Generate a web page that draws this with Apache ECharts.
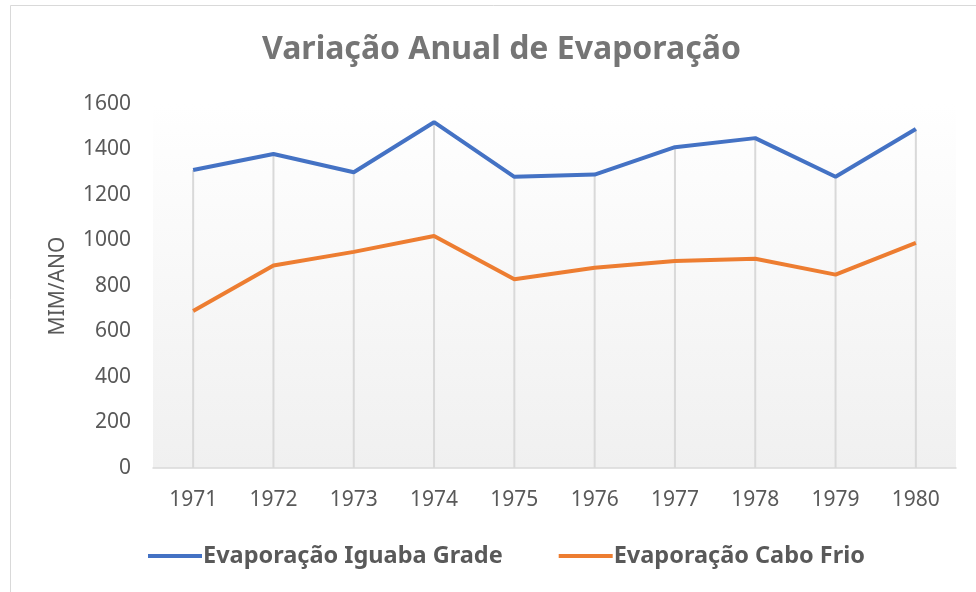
<!DOCTYPE html>
<html>
<head>
<meta charset="utf-8">
<script src="https://cdn.jsdelivr.net/npm/echarts@6/dist/echarts.min.js"></script>
<style>
  html, body { margin: 0; padding: 0; background: #fff; }
  #chart { width: 976px; height: 592px; }
</style>
</head>
<body>
<div id="chart"></div>
<script>
// anos
var years = ["1971", "1972", "1973", "1974", "1975", "1976", "1977", "1978", "1979", "1980"];
// evaporação (mm/ano)
var iguabaGrade = [1310, 1380, 1300, 1520, 1280, 1290, 1410, 1450, 1280, 1490];
var caboFrio = [690, 890, 950, 1020, 830, 880, 910, 920, 850, 990];
var seriesNames = ["Evaporação Iguaba Grade", "Evaporação Cabo Frio"];

// linhas de queda: do maior valor de cada ano até o eixo
var dropLines = years.map(function (y, i) {
  return Math.max(iguabaGrade[i], caboFrio[i]);
});

var font = "'Noto Sans', sans-serif";
var chart = echarts.init(document.getElementById("chart"));
chart.setOption({
  animation: false,
  title: {
    text: "Variação Anual de Evaporação",
    left: 257,
    top: 29,
    textStyle: {
      color: "#757575",
      fontSize: 32,
      fontWeight: "bold",
      fontFamily: font
    }
  },
  graphic: [
    {
      type: "rect",
      shape: { x: 10.5, y: 5.5, width: 980, height: 600 },
      style: { fill: "none", stroke: "#d9d9d9", lineWidth: 1 },
      silent: true
    }
  ],
  legend: {
    data: seriesNames,
    bottom: 19,
    left: 143,
    itemWidth: 54,
    itemHeight: 4,
    itemGap: 56,
    icon: "rect",
    textStyle: {
      color: "#595959",
      fontSize: 23.5,
      fontWeight: "bold",
      fontFamily: font,
      padding: [0, 0, 0, -4]
    }
  },
  grid: {
    left: 153,
    right: 20,
    top: 104,
    bottom: 124,
    show: true,
    borderWidth: 0,
    backgroundColor: {
      type: "linear", x: 0, y: 0, x2: 0, y2: 1,
      colorStops: [
        { offset: 0, color: "#ffffff" },
        { offset: 1, color: "#f0f0f0" }
      ]
    }
  },
  xAxis: {
    type: "category",
    data: years,
    boundaryGap: true,
    axisLine: { lineStyle: { color: "#d9d9d9", width: 1.5 } },
    axisTick: { show: false },
    axisLabel: { color: "#595959", fontSize: 21, margin: 22, fontFamily: font },
    splitLine: { show: false }
  },
  yAxis: {
    type: "value",
    min: 0,
    max: 1600,
    interval: 200,
    name: "MIM/ANO",
    nameLocation: "middle",
    nameRotate: 90,
    nameGap: 84,
    nameTextStyle: { color: "#595959", fontSize: 21, fontFamily: font },
    axisLine: { show: false },
    axisTick: { show: false },
    splitLine: { show: false },
    axisLabel: {
      color: "#595959",
      fontSize: 21,
      margin: 22,
      fontFamily: font,
      formatter: function (v) { return String(v); }
    }
  },
  series: [
    {
      name: "linhas",
      type: "bar",
      data: dropLines,
      barWidth: 2,
      silent: true,
      z: 1,
      itemStyle: { color: "#d9d9d9" }
    },
    {
      name: seriesNames[0],
      type: "line",
      data: iguabaGrade,
      symbol: "none",
      z: 3,
      lineStyle: { color: "#4472C4", width: 4 },
      itemStyle: { color: "#4472C4" }
    },
    {
      name: seriesNames[1],
      type: "line",
      data: caboFrio,
      symbol: "none",
      z: 3,
      lineStyle: { color: "#ED7D31", width: 4 },
      itemStyle: { color: "#ED7D31" }
    }
  ]
});
</script>
</body>
</html>
